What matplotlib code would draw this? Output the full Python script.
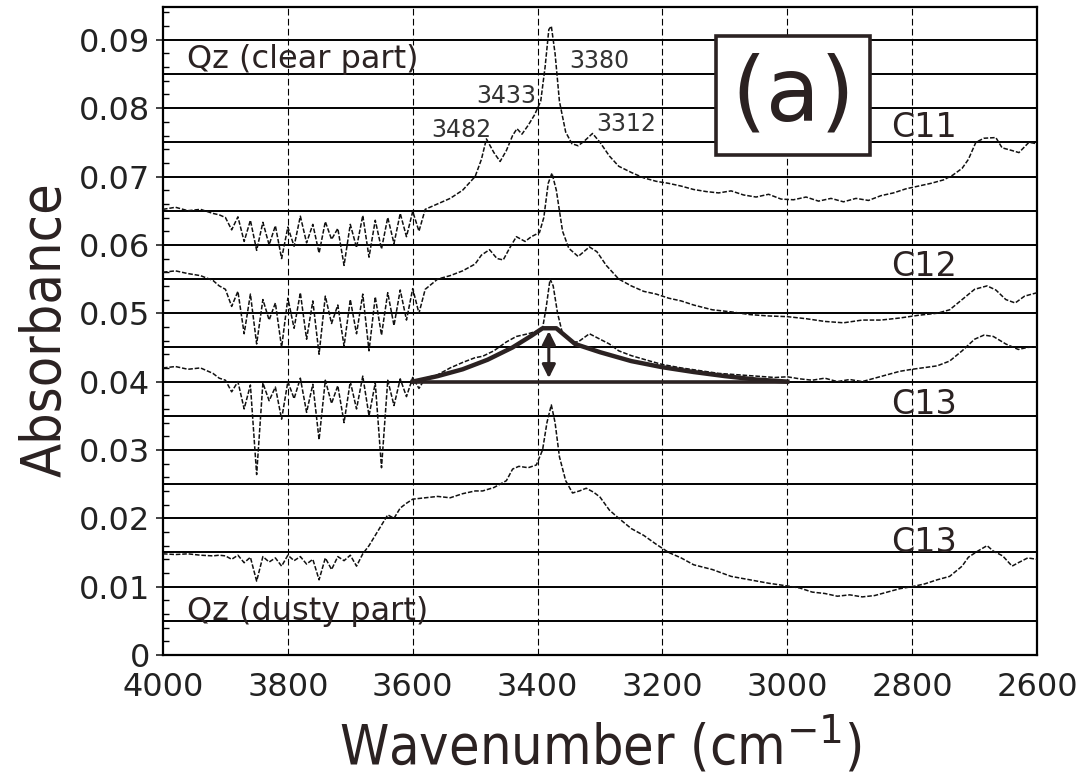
import numpy as np
import matplotlib.pyplot as plt
from matplotlib.patches import Rectangle

# --- data (wavenumber in cm-1, absorbance) ---
noise_wn = np.arange(3900, 3575, -10)
dusty_noise_wn = np.arange(3900, 3675, -10)

c11_head_wn = [4000, 3980, 3960, 3940, 3920, 3910]
c11_head = [0.0652, 0.0655, 0.0650, 0.0652, 0.0646, 0.0644]
c11_noise = [0.0640, 0.0622, 0.0641, 0.0605, 0.0636, 0.0592, 0.0633, 0.0600, 0.0628, 0.0580,
             0.0626, 0.0598, 0.0642, 0.0603, 0.0630, 0.0588, 0.0634, 0.0608, 0.0624, 0.0570,
             0.0630, 0.0596, 0.0643, 0.0582, 0.0636, 0.0594, 0.0640, 0.0602, 0.0646, 0.0612,
             0.0649, 0.0620, 0.0652]
c11_tail_wn = [3560, 3540, 3520, 3500, 3490, 3482, 3470, 3460, 3450, 3440, 3433, 3425, 3415,
               3405, 3395, 3388, 3382, 3378, 3372, 3365, 3355, 3345, 3335, 3325, 3312, 3300,
               3285, 3270, 3250, 3230, 3210, 3190, 3170, 3150, 3130, 3110, 3090, 3070, 3050,
               3030, 3010, 2990, 2970, 2950, 2930, 2910, 2890, 2870, 2850, 2830, 2810, 2790,
               2770, 2750, 2735, 2720, 2710, 2698, 2685, 2666, 2656, 2640, 2629, 2613, 2600]
c11_tail = [0.0660, 0.0668, 0.0680, 0.0700, 0.0725, 0.0755, 0.0735, 0.0722, 0.0738, 0.0760,
            0.0770, 0.0762, 0.0775, 0.0790, 0.0810, 0.0860, 0.0915, 0.0920, 0.0880, 0.0810,
            0.0765, 0.0748, 0.0745, 0.0752, 0.0763, 0.0750, 0.0730, 0.0715, 0.0706, 0.0698,
            0.0693, 0.0690, 0.0686, 0.0681, 0.0678, 0.0676, 0.0679, 0.0673, 0.0670, 0.0674,
            0.0667, 0.0666, 0.0670, 0.0664, 0.0668, 0.0663, 0.0668, 0.0665, 0.0672, 0.0676,
            0.0682, 0.0686, 0.0690, 0.0695, 0.0702, 0.0712, 0.0725, 0.0750, 0.0756, 0.0757,
            0.0742, 0.0738, 0.0735, 0.0750, 0.0748]

c12_head_wn = [4000, 3980, 3960, 3940, 3920, 3910]
c12_head = [0.0560, 0.0562, 0.0558, 0.0555, 0.0548, 0.0540]
c12_noise = [0.0535, 0.0510, 0.0532, 0.0470, 0.0528, 0.0455, 0.0520, 0.0490, 0.0515, 0.0450,
             0.0522, 0.0478, 0.0530, 0.0462, 0.0518, 0.0440, 0.0525, 0.0485, 0.0512, 0.0452,
             0.0520, 0.0470, 0.0528, 0.0445, 0.0524, 0.0468, 0.0530, 0.0482, 0.0534, 0.0490,
             0.0536, 0.0500, 0.0535]
c12_tail_wn = [3560, 3540, 3520, 3500, 3490, 3477, 3465, 3455, 3445, 3434, 3420, 3410, 3397,
               3390, 3383, 3377, 3370, 3360, 3350, 3335, 3317, 3305, 3290, 3270, 3250, 3230,
               3210, 3190, 3170, 3150, 3120, 3090, 3060, 3030, 3000, 2970, 2940, 2910, 2880,
               2850, 2820, 2790, 2760, 2740, 2720, 2700, 2680, 2666, 2650, 2635, 2620, 2600]
c12_tail = [0.0550, 0.0555, 0.0562, 0.0572, 0.0585, 0.0593, 0.0580, 0.0578, 0.0595, 0.0612,
            0.0605, 0.0612, 0.0618, 0.0640, 0.0690, 0.0705, 0.0680, 0.0620, 0.0595, 0.0583,
            0.0597, 0.0590, 0.0570, 0.0550, 0.0540, 0.0532, 0.0528, 0.0522, 0.0518, 0.0512,
            0.0505, 0.0502, 0.0498, 0.0496, 0.0495, 0.0492, 0.0488, 0.0486, 0.0490, 0.0490,
            0.0493, 0.0497, 0.0500, 0.0505, 0.0520, 0.0535, 0.0540, 0.0534, 0.0520, 0.0515,
            0.0525, 0.0530]

c13_head_wn = [4000, 3980, 3960, 3940, 3920, 3910]
c13_head = [0.0420, 0.0422, 0.0418, 0.0420, 0.0412, 0.0405]
c13_noise = [0.0402, 0.0385, 0.0400, 0.0360, 0.0395, 0.0264, 0.0398, 0.0372, 0.0392, 0.0345,
             0.0400, 0.0375, 0.0405, 0.0355, 0.0396, 0.0315, 0.0402, 0.0368, 0.0394, 0.0340,
             0.0400, 0.0360, 0.0408, 0.0350, 0.0398, 0.0274, 0.0402, 0.0365, 0.0404, 0.0378,
             0.0406, 0.0390, 0.0405]
c13_tail_wn = [3560, 3540, 3520, 3500, 3488, 3470, 3450, 3434, 3415, 3400, 3392, 3386, 3380,
               3375, 3368, 3360, 3345, 3335, 3317, 3300, 3285, 3270, 3250, 3220, 3200, 3170,
               3140, 3110, 3080, 3050, 3020, 3000, 2980, 2960, 2940, 2920, 2900, 2880, 2860,
               2840, 2820, 2800, 2760, 2740, 2720, 2700, 2685, 2670, 2650, 2630, 2615, 2600]
c13_tail = [0.0410, 0.0420, 0.0428, 0.0435, 0.0437, 0.0445, 0.0458, 0.0466, 0.0470, 0.0474,
            0.0478, 0.0510, 0.0550, 0.0540, 0.0500, 0.0470, 0.0458, 0.0458, 0.0470, 0.0462,
            0.0455, 0.0445, 0.0438, 0.0430, 0.0425, 0.0420, 0.0416, 0.0412, 0.0410, 0.0408,
            0.0406, 0.0407, 0.0404, 0.0402, 0.0405, 0.0400, 0.0403, 0.0400, 0.0405, 0.0410,
            0.0415, 0.0418, 0.0423, 0.0430, 0.0445, 0.0462, 0.0468, 0.0466, 0.0455, 0.0447,
            0.0450, 0.0451]

dusty_head_wn = [4000, 3980, 3960, 3940, 3920, 3910]
dusty_head = [0.0148, 0.0147, 0.0148, 0.0146, 0.0145, 0.0146]
dusty_noise = [0.0145, 0.0140, 0.0146, 0.0135, 0.0143, 0.0108, 0.0144, 0.0136, 0.0142, 0.0130,
               0.0146, 0.0138, 0.0144, 0.0133, 0.0140, 0.0110, 0.0142, 0.0125, 0.0144, 0.0138,
               0.0146, 0.0130, 0.0148]
dusty_tail_wn = [3670, 3660, 3650, 3640, 3630, 3620, 3610, 3600, 3580, 3560, 3540, 3520, 3500,
                 3488, 3470, 3450, 3440, 3430, 3415, 3402, 3392, 3385, 3378, 3372, 3365, 3355,
                 3344, 3333, 3322, 3310, 3300, 3285, 3270, 3250, 3230, 3210, 3190, 3170, 3150,
                 3120, 3090, 3060, 3030, 3000, 2980, 2960, 2940, 2920, 2900, 2880, 2860, 2840,
                 2820, 2800, 2780, 2760, 2740, 2720, 2710, 2695, 2680, 2670, 2655, 2640, 2630,
                 2615, 2600]
dusty_tail = [0.0160, 0.0175, 0.0190, 0.0205, 0.0200, 0.0215, 0.0222, 0.0228, 0.0230, 0.0232,
              0.0230, 0.0236, 0.0240, 0.0240, 0.0245, 0.0255, 0.0272, 0.0276, 0.0274, 0.0278,
              0.0300, 0.0340, 0.0366, 0.0340, 0.0290, 0.0255, 0.0237, 0.0240, 0.0244, 0.0238,
              0.0231, 0.0212, 0.0200, 0.0185, 0.0175, 0.0162, 0.0150, 0.0142, 0.0132, 0.0125,
              0.0115, 0.0110, 0.0105, 0.0101, 0.0098, 0.0092, 0.0090, 0.0086, 0.0088, 0.0085,
              0.0087, 0.0092, 0.0097, 0.0100, 0.0104, 0.0110, 0.0115, 0.0130, 0.0143, 0.0152,
              0.0160, 0.0152, 0.0145, 0.0130, 0.0135, 0.0142, 0.0140]

# band envelope and baseline drawn on C13
env_wn = [3600, 3560, 3520, 3480, 3440, 3410, 3392, 3370, 3340, 3300, 3250, 3200, 3150, 3100, 3050, 3000]
env_abs = [0.0400, 0.0408, 0.0418, 0.0432, 0.0450, 0.0467, 0.0478, 0.0478, 0.0455, 0.0443,
           0.0430, 0.0421, 0.0414, 0.0408, 0.0403, 0.0400]
base_wn = [3600, 3000]
base_abs = [0.0400, 0.0400]

peak_labels = ['3482', '3433', '3380', '3312']
peak_label_pos = [(3570, 0.0758), (3498, 0.0808), (3349, 0.0859), (3306, 0.0766)]
curve_names = ['C11', 'C12', 'C13', 'C13']
curve_name_y = [0.0772, 0.0568, 0.0366, 0.0164]

fig = plt.figure(figsize=(10.78, 7.78), dpi=100)
ax = fig.add_axes([0.1512, 0.1581, 0.8108, 0.8329])

series = [
    (c11_head_wn, c11_head, noise_wn, c11_noise, c11_tail_wn, c11_tail),
    (c12_head_wn, c12_head, noise_wn, c12_noise, c12_tail_wn, c12_tail),
    (c13_head_wn, c13_head, noise_wn, c13_noise, c13_tail_wn, c13_tail),
    (dusty_head_wn, dusty_head, dusty_noise_wn, dusty_noise, dusty_tail_wn, dusty_tail),
]
for hw, hv, nw, nv, tw, tv in series:
    x = np.concatenate([hw, nw, tw])
    y = np.concatenate([hv, nv, tv])
    ax.plot(x, y, color='#111111', lw=1.1, ls=(0, (3, 1.2)), zorder=3)

ax.plot(env_wn, env_abs, color='#2b2222', lw=3.2, zorder=4)
ax.plot(base_wn, base_abs, color='#2b2222', lw=2.6, zorder=4)
ax.annotate('', xy=(3382, 0.0401), xytext=(3382, 0.0478),
            arrowprops=dict(arrowstyle='<|-|>', color='#2b2222', lw=2.2, mutation_scale=20), zorder=5)

# grid
for yv in np.arange(0.005, 0.0901, 0.005):
    ax.axhline(yv, color='black', lw=1.4, zorder=1)
for xv in range(3800, 2700, -200):
    ax.axvline(xv, color='black', lw=0.8, ls=(0, (6, 3)), zorder=1)

ax.set_xlim(4000, 2600)
ax.set_ylim(0, 0.0948)
ax.set_xticks(range(4000, 2599, -200))
ax.set_yticks(np.arange(0, 0.0901, 0.01))
ax.set_yticklabels(['0'] + ['%.2f' % v for v in np.arange(0.01, 0.0901, 0.01)])
ax.set_yticks(np.arange(0, 0.0948, 0.002), minor=True)
ax.tick_params(axis='y', which='major', direction='out', length=5, width=1.2,
               labelsize=23, pad=4, colors='#222222')
ax.tick_params(axis='y', which='minor', direction='in', length=4, width=1)
ax.tick_params(axis='x', which='major', length=0, labelsize=23, pad=12, colors='#222222')
for s in ax.spines.values():
    s.set_color('black')
    s.set_linewidth(1.6)

ax.text(3962, 0.0859, 'Qz (clear part)', fontsize=23, color='#2b2222', zorder=6)
ax.text(3962, 0.0051, 'Qz (dusty part)', fontsize=23, color='#2b2222', zorder=6)
for lab, (xw, yv) in zip(peak_labels, peak_label_pos):
    ax.text(xw, yv, lab, fontsize=17, color='#333333', zorder=6)
for name, yv in zip(curve_names, curve_name_y):
    ax.text(2834, yv, name, fontsize=24, color='#2b2222', va='center', zorder=6)

# boxed panel tag
ax.add_patch(Rectangle((2867, 0.0732), 3114 - 2867, 0.0905 - 0.0732,
                       facecolor='white', edgecolor='#2b2222', lw=2.6, zorder=6))
ax.text(2990, 0.0818, '(a)', fontsize=64, color='#2b2222', ha='center', va='center', zorder=7)

fig.text(0.042, 0.576, 'Absorbance', rotation=90, fontsize=40, color='#2b2222',
         ha='center', va='center', fontstretch='condensed')
fig.text(0.557, 0.043, 'Wavenumber (cm$^{-1}$)', fontsize=40, color='#2b2222',
         ha='center', va='center', fontstretch='condensed')

fig.savefig('out.png', dpi=100, facecolor='white')
